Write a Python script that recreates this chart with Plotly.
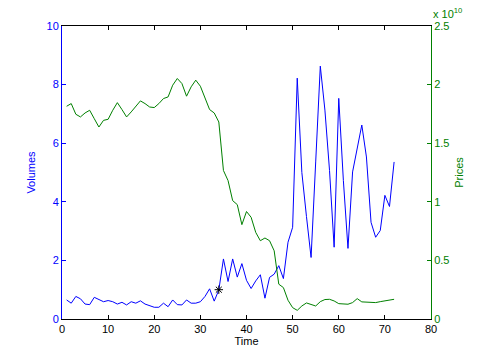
import plotly.graph_objects as go

time = list(range(1, 73))
volumes = [0.65, 0.54, 0.77, 0.69, 0.51, 0.49, 0.74, 0.67, 0.59, 0.63,
           0.59, 0.51, 0.57, 0.48, 0.59, 0.54, 0.62, 0.51, 0.46, 0.40,
           0.40, 0.54, 0.42, 0.65, 0.49, 0.48, 0.65, 0.54, 0.54, 0.59,
           0.77, 1.03, 0.61, 0.99, 2.05, 1.28, 2.05, 1.43, 1.89, 1.32,
           1.04, 1.30, 1.51, 0.71, 1.42, 1.53, 1.82, 1.38, 2.62, 3.13,
           8.22, 5.0, 3.5, 2.1, 5.36, 8.63, 7.13, 5.07, 2.45, 7.53,
           4.73, 2.41, 5.02, 5.82, 6.62, 5.53, 3.30, 2.79, 3.02, 4.22,
           3.84, 5.36]
prices = [1.815, 1.838, 1.747, 1.724, 1.758, 1.781, 1.709, 1.638, 1.695, 1.704,
          1.781, 1.846, 1.787, 1.724, 1.767, 1.815, 1.861, 1.838, 1.809, 1.804,
          1.838, 1.881, 1.895, 1.995, 2.052, 2.009, 1.901, 1.981, 2.038, 1.986,
          1.889, 1.787, 1.758, 1.681, 1.267, 1.181, 1.010, 0.976, 0.805, 0.917,
          0.868, 0.739, 0.668, 0.691, 0.668, 0.582, 0.297, 0.268, 0.160, 0.097,
          0.074, 0.111, 0.137, 0.126, 0.111, 0.148, 0.166, 0.168, 0.154, 0.131,
          0.126, 0.126, 0.140, 0.174, 0.146, 0.146, 0.146, 0.140, 0.148, 0.154,
          0.160, 0.168]
marker_x = [34]
marker_y = [1.0]

BLUE = "rgb(0,0,255)"
GREEN = "rgb(0,128,0)"
FONT = "Liberation Sans, Arial, sans-serif"

fig = go.Figure()
fig.add_trace(go.Scatter(x=time, y=volumes, mode="lines",
                         line=dict(color=BLUE, width=1), yaxis="y"))
fig.add_trace(go.Scatter(x=time, y=prices, mode="lines",
                         line=dict(color=GREEN, width=1), yaxis="y2"))
fig.add_trace(go.Scatter(x=marker_x, y=marker_y, mode="markers",
                         marker=dict(symbol="asterisk-open", size=7,
                                     color="black", line=dict(width=1, color="black")),
                         yaxis="y"))

fig.update_layout(
    width=477, height=358,
    margin=dict(l=62, r=46, t=26, b=39),
    paper_bgcolor="white", plot_bgcolor="white",
    showlegend=False,
    font=dict(family=FONT, size=11, color="black"),
    xaxis=dict(range=[0, 80], tickvals=[0, 10, 20, 30, 40, 50, 60, 70, 80],
               ticks="inside", ticklen=4, tickcolor="black",
               showline=True, linecolor="black", linewidth=1, mirror="ticks",
               showgrid=False, zeroline=False,
               title=dict(text="Time", font=dict(size=11, color="black"), standoff=2),
               tickfont=dict(size=11, color="black")),
    yaxis=dict(range=[0, 10], tickvals=[0, 2, 4, 6, 8, 10],
               ticks="inside", ticklen=4, tickcolor=BLUE,
               showline=True, linecolor=BLUE, linewidth=1,
               showgrid=False, zeroline=False,
               title=dict(text="Volumes", font=dict(size=11, color=BLUE), standoff=8),
               tickfont=dict(size=11, color=BLUE)),
    yaxis2=dict(range=[0, 2.5], tickvals=[0, 0.5, 1, 1.5, 2, 2.5],
                ticktext=["0", "0.5", "1", "1.5", "2", "2.5"],
                overlaying="y", side="right", anchor="x",
                ticks="inside", ticklen=4, tickcolor=GREEN,
                showline=True, linecolor=GREEN, linewidth=1,
                showgrid=False, zeroline=False,
                title=dict(text="Prices", font=dict(size=11, color=GREEN), standoff=6),
                tickfont=dict(size=11, color=GREEN)),
    annotations=[dict(text="x 10<sup>10</sup>", xref="paper", yref="paper",
                      x=1.0, y=1.0, xanchor="left", yanchor="bottom",
                      showarrow=False, font=dict(size=11, color=GREEN),
                      xshift=0, yshift=4)],
)

fig.write_html("out.html")
